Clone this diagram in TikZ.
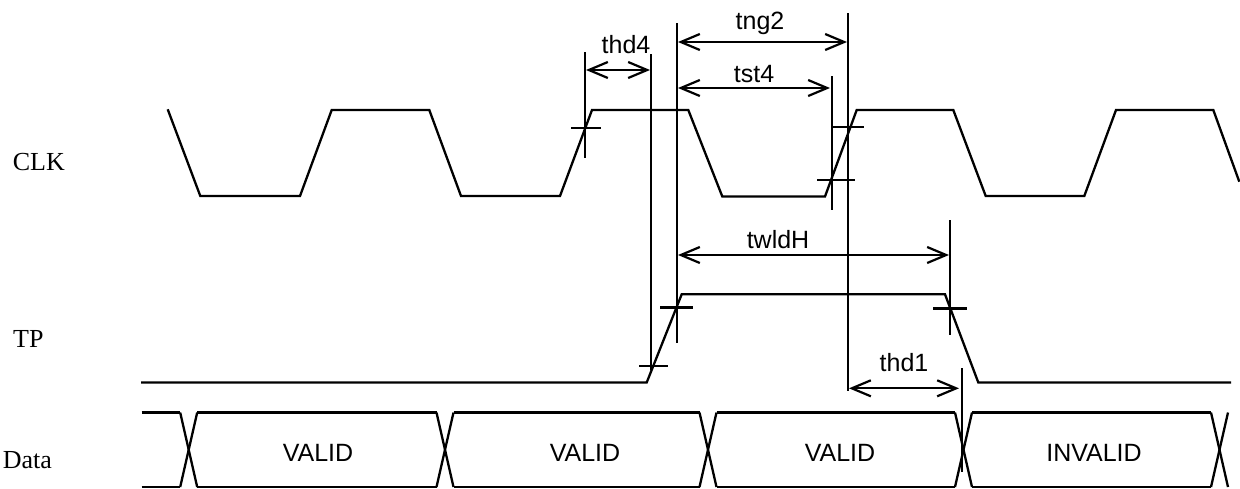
\documentclass[tikz,border=0pt]{standalone}
\usepackage{fontspec}
\setmainfont{Liberation Serif}
\setsansfont{Liberation Sans}
\usetikzlibrary{arrows.meta}
\begin{document}
\begin{tikzpicture}[x=1pt,y=-1pt,
  wave/.style={draw=black,line width=2.3pt,line join=miter},
  refline/.style={draw=black,line width=2.2pt},
  tick/.style={draw=black,line width=2.2pt},
  dimtip/.tip={Straight Barb[length=19pt,width=16pt,line width=2.2pt]},
  dim/.style={draw=black,line width=2.2pt,dimtip-dimtip},
  lbl/.style={font=\sffamily\fontsize{25}{29}\selectfont, inner sep=0pt, anchor=base},
  sig/.style={font=\fontsize{26}{30}\selectfont, inner sep=0pt, anchor=base west},
]
\useasboundingbox (0,0) rectangle (1240,488);

% signal names
\node[sig] (nclk) at (12.7,170) {CLK};
\node[sig] (ntp) at (13,347.3) {TP};
\node[sig] (ndata) at (2.7,468.3) {Data};

% CLK waveform
\draw[wave] (167.7,109.3) -- (200.3,196) -- (300,196) -- (331.7,110) -- (429.3,110)
  -- (461,196) -- (560,196) -- (592,110) -- (688.3,110) -- (722.3,196.5)
  -- (825,196.5) -- (856.7,110) -- (953.3,110) -- (985.7,196) -- (1084.3,196)
  -- (1116,110) -- (1213.3,110) -- (1239.3,181.7);

% TP waveform
\draw[wave] (141,382.5) -- (646.7,382.5) -- (681.7,294.3) -- (945,294.3)
  -- (978.3,382.5) -- (1231,382.5);

% Data bus
\foreach \c in {188.7,445,708,963.5,1219.5}{
  \draw[wave] (\c-8.5,412.5) -- (\c+8.5,487);
  \draw[wave] (\c+8.5,412.5) -- (\c-8.5,487);
}
\draw[wave] (141.7,412.5) -- (180.2,412.5);
\draw[wave] (141.7,487) -- (180.2,487);
\foreach \a/\b in {188.7/445,445/708,708/963.5,963.5/1219.5}{
  \draw[wave] (\a+8.5,412.5) -- (\b-8.5,412.5);
  \draw[wave] (\a+8.5,487) -- (\b-8.5,487);
}
\node[lbl] (d1) at (318,461) {VALID};
\node[lbl] (d2) at (585,461) {VALID};
\node[lbl] (d3) at (840,461) {VALID};
\node[lbl] (d4) at (1094,461) {INVALID};

% reference lines
\coordinate (v1t) at (585,52);   \coordinate (v1b) at (585,158);
\coordinate (v2t) at (651,54);   \coordinate (v2b) at (651,370);
\coordinate (v3t) at (677,23);   \coordinate (v3b) at (677,343);
\coordinate (v4t) at (848,13);   \coordinate (v4b) at (848,391);
\coordinate (v5t) at (832,76);   \coordinate (v5b) at (832,210);
\coordinate (v6t) at (950,220);  \coordinate (v6b) at (950,335);
\coordinate (v7t) at (962,368);  \coordinate (v7b) at (962,472);
\foreach \v in {1,...,7}{ \draw[refline] (v\v t) -- (v\v b); }

% crosshair ticks
\draw[tick] (571,128) -- (601,128);
\draw[tick] (833,127) -- (864,127);
\draw[tick] (817,180) -- (855,180);
\draw[tick] (639,366) -- (668,366);
\draw[tick] (660,307.5) -- (693,307.5);
\draw[tick] (933,308.5) -- (967,308.5);

% dimension arrows
\coordinate (a1l) at (586,70);   \coordinate (a1r) at (650,70);
\coordinate (a2l) at (678,42);   \coordinate (a2r) at (847,42);
\coordinate (a3l) at (678,88);   \coordinate (a3r) at (830,88);
\coordinate (a4l) at (678,255);  \coordinate (a4r) at (949,255);
\coordinate (a5l) at (849,388.3);\coordinate (a5r) at (959,388.3);
\draw[dim] (a1l) -- (a1r);
\draw[dim] (a2l) -- (a2r);
\draw[dim] (a3l) -- (a3r);
\draw[dim] (a4l) -- (a4r);
\draw[dim] (a5l) -- (a5r);

\node[lbl] (thd4) at (626,53.3) {thd4};
\node[lbl] (tng2) at (760,29.3) {tng2};
\node[lbl] (tst4) at (754,82.7) {tst4};
\node[lbl] (twldH) at (778,248.3) {twldH};
\node[lbl] (thd1) at (904,371.7) {thd1};
\end{tikzpicture}
\end{document}
